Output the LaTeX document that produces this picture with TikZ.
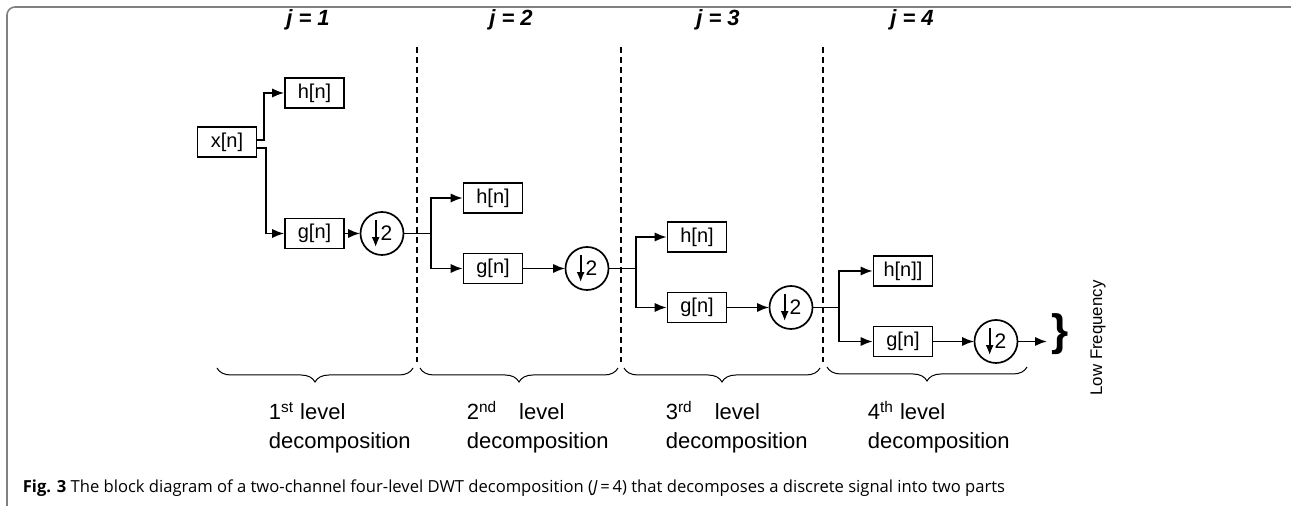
\documentclass[tikz,border=0pt]{standalone}
\usepackage{fontspec}
\setmainfont{Liberation Sans}
\newfontfamily\capfont{Open Sans}
\usetikzlibrary{arrows.meta,positioning,calc,decorations.pathreplacing}
\newcommand{\downtwo}{\tikz[baseline={(0,-3.6pt)}]\draw[-{Latex[length=5pt,width=4pt]},line width=0.85pt] (0,6.8pt)--(0,-6.8pt);\kern0.5pt 2}
\begin{document}
\begin{tikzpicture}
[x=0.5pt,y=-0.5pt,>={Latex[length=6pt,width=4.6pt]},line width=0.85pt,
filter/.style={draw,minimum width=29.5pt,minimum height=15pt,inner sep=0pt,font=\fontsize{10}{10}\selectfont},
down/.style={draw,circle,minimum size=21.5pt,inner sep=0pt,font=\fontsize{10.5}{11}\selectfont},
cut/.style={dash pattern=on 3pt off 2pt,line width=0.85pt},
jlabel/.style={font=\fontsize{11}{12}\selectfont\itshape\bfseries},
level/.style={anchor=base west,align=left,inner sep=0pt,font=\fontsize{11}{14.5}\selectfont},
lbrace/.style={decorate,decoration={brace,mirror,amplitude=7pt},line width=0.5pt}]
\useasboundingbox (0,0) rectangle (1291,506);
% frame
\draw[black!50,line width=0.8pt,rounded corners=4pt] (7,506) -- (7,7) -- (1291,7);
% level 1
\node [filter] (xn) at (227,142) {x[n]};
\node [filter] (h1) at (314.5,93) {h[n]};
\node [filter] (g1) at (314.5,233.5) {g[n]};
\node [down] (d1) at (382,233.5) {\downtwo};
\draw[->] ($(xn.east)+(0,-2)$) -| ($(h1.west)+(-20,0)$) -- (h1.west);
\draw[->] ($(xn.east)+(0,6)$) -| ($(g1.west)+(-18,0)$) -- (g1.west);
\draw[->] (g1) -- (d1);
% level 2
\node [filter] (h2) at (493,198) {h[n]};
\node [filter] (g2) at (493,268.5) {g[n]};
\node [down] (d2) at (587,268.5) {\downtwo};
\coordinate (j1) at (431,233.5);
\draw (d1) -- (j1);
\draw[->] (j1) |- (h2);
\draw[->] (j1) |- (g2);
\draw[->] (g2) -- (d2);
% level 3
\node [filter] (h3) at (697,237) {h[n]};
\node [filter] (g3) at (697,307.5) {g[n]};
\node [down] (d3) at (791,307.5) {\downtwo};
\coordinate (j2) at (636,268.5);
\draw (d2) -- (j2);
\draw[->] (j2) |- (h3);
\draw[->] (j2) |- (g3);
\draw[->] (g3) -- (d3);
% level 4
\node [filter] (h4) at (903,271) {h[n]]};
\node [filter] (g4) at (903,341.5) {g[n]};
\node [down] (d4) at (996,341.5) {\downtwo};
\coordinate (j3) at (839,307.5);
\draw (d3) -- (j3);
\draw[->] (j3) |- (h4);
\draw[->] (j3) |- (g4);
\draw[->] (g4) -- (d4);
\coordinate (lf) at (1047,341.5);
\draw[->] (d4) -- (lf);
\node [font=\fontsize{22}{22}\selectfont\bfseries] (lfb) at (1060,334) {\}};
\node [rotate=90,font=\fontsize{8.4}{9}\selectfont] (lft) at (1098,338) {Low Frequency};
% level separators
\foreach \x in {417,621,823}
  \draw[cut] (\x,47) -- (\x,362);
\node [jlabel] (t1) at (308,20) {j = 1};
\node [jlabel] (t2) at (511,20) {j = 2};
\node [jlabel] (t3) at (718,20) {j = 3};
\node [jlabel] (t4) at (912,20) {j = 4};
% braces and level names
\draw[lbrace] (217,368) -- (413,368);
\draw[lbrace] (420,368) -- (618,368);
\draw[lbrace] (624,368) -- (820,368);
\draw[lbrace] (827,367) -- (1027,367);
\node [level] (l1) at (268,449) {1\textsuperscript{st} level\\decomposition};
\node [level] (l2) at (466,449) {2\textsuperscript{nd}\quad level\\decomposition};
\node [level] (l3) at (665,449) {3\textsuperscript{rd}\quad level\\decomposition};
\node [level] (l4) at (867,449) {4\textsuperscript{th} level\\decomposition};
% caption
\node [anchor=base west,inner sep=0pt,font=\capfont\fontsize{8.3}{10}\selectfont] (cap) at (22,493)
  {\textbf{Fig. 3} The block diagram of a two-channel four-level DWT decomposition (\textit{J}\,=\,4) that decomposes a discrete signal into two parts};
\end{tikzpicture}
\end{document}
